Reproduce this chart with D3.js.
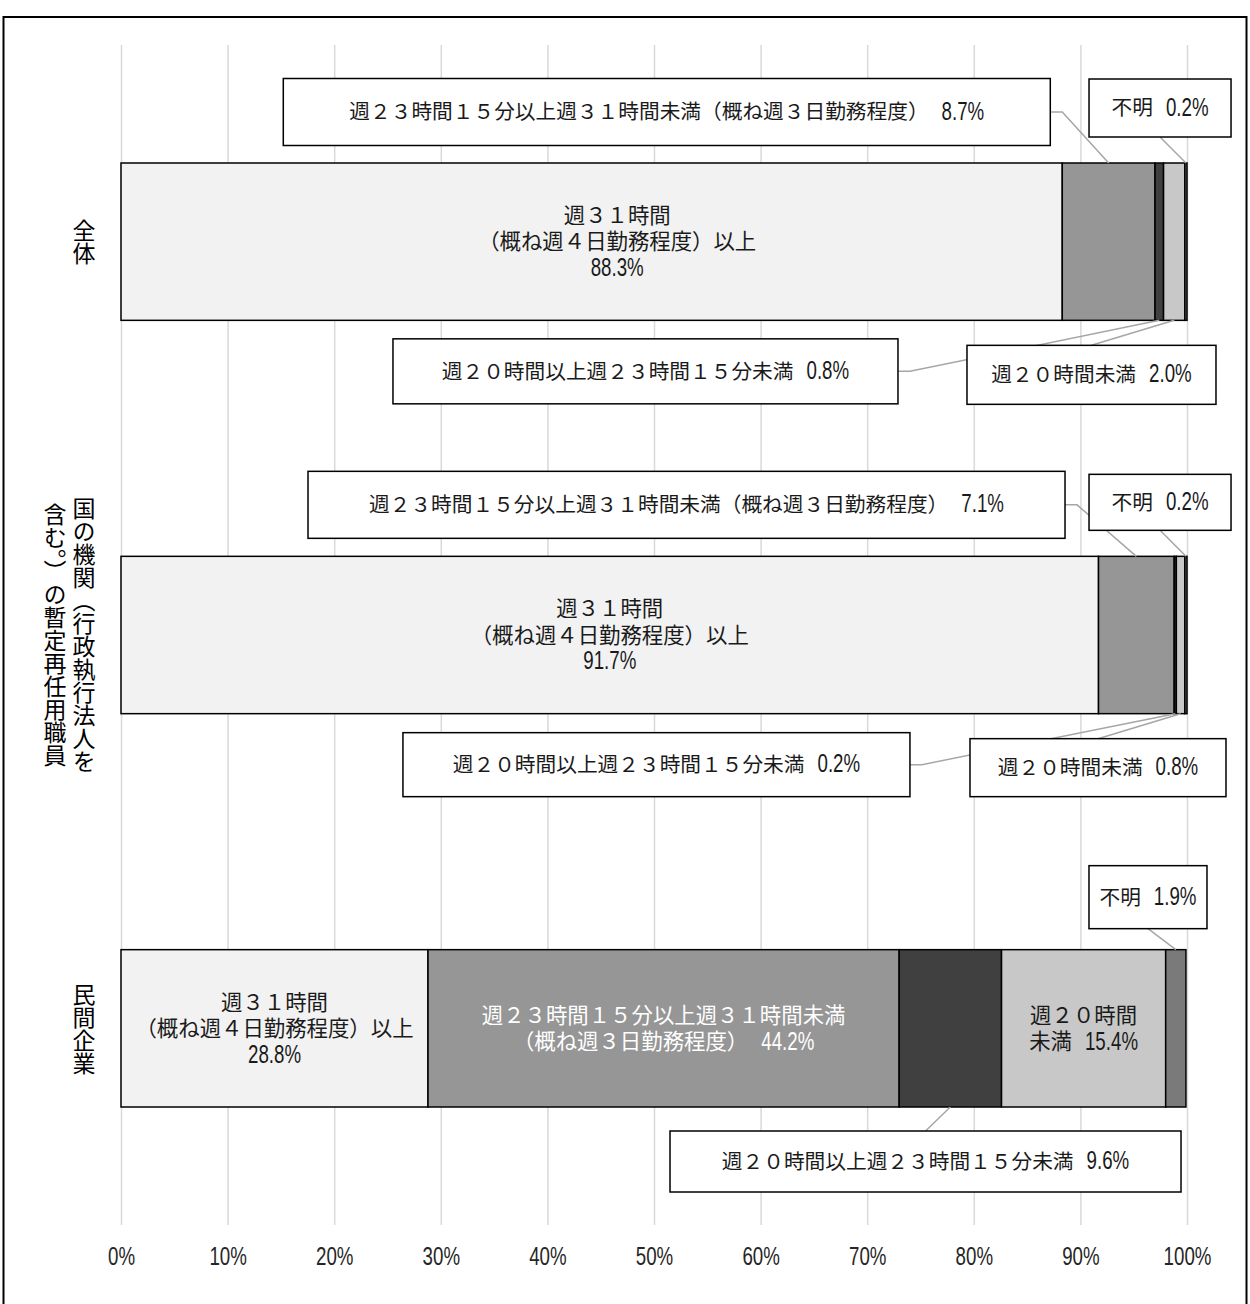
<!DOCTYPE html>
<html>
<head>
<meta charset="utf-8">
<script src="https://cdn.jsdelivr.net/npm/d3@7"></script>
<style>
  body { margin: 0; background: #fff; }
  svg { display: block; }
</style>
</head>
<body>
<svg id="chart"></svg>
<script>
// data
const groups = ['全体', '国の機関（行政執行法人を含む。）の暫定再任用職員', '民間企業']
const series = [
  '週３１時間（概ね週４日勤務程度）以上',
  '週２３時間１５分以上週３１時間未満（概ね週３日勤務程度）',
  '週２０時間以上週２３時間１５分未満',
  '週２０時間未満',
  '不明'
]
const zentai = [88.3, 8.7, 0.8, 2.0, 0.2]
const kuniKikan = [91.7, 7.1, 0.2, 0.8, 0.2]
const minkan = [28.8, 44.2, 9.6, 15.4, 1.9]
const tickValues = [0, 10, 20, 30, 40, 50, 60, 70, 80, 90, 100]

const values = [zentai, kuniKikan, minkan]
const colors = ['#f2f2f2', '#969696', '#404040', '#c8c8c8', '#7a7a7a']

// label layout: where each value is written (shift = nudge along the % axis)
const insideLabels = [
  [{ s: 0, brk: 5, own: true, shift: 2.4 }],
  [{ s: 0, brk: 5, own: true }],
  [{ s: 0, brk: 5, own: true }, { s: 1, brk: 17, own: false, fill: '#fff' }, { s: 3, brk: 5, own: false }]
]
// at = box centre on the % axis, dy = offset from bar top (<0) or bar bottom (>0)
const callouts = [
  [
    { s: 1, at: 51.2, dy: -51, w: 767, h: 67, side: 'right' },
    { s: 4, at: 97.47, dy: -55, w: 142, h: 58, side: 'bottom' },
    { s: 2, at: 49.2, dy: 51, w: 505, h: 65, side: 'right' },
    { s: 3, at: 91.04, dy: 54.5, w: 249, h: 59, side: 'top' }
  ],
  [
    { s: 1, at: 53.05, dy: -51.5, w: 757, h: 67, side: 'right' },
    { s: 4, at: 97.47, dy: -54, w: 142, h: 56, side: 'bottom' },
    { s: 2, at: 50.23, dy: 51, w: 507, h: 64, side: 'right' },
    { s: 3, at: 91.65, dy: 54, w: 256, h: 58, side: 'top' }
  ],
  [
    { s: 4, at: 96.34, dy: -52.5, w: 118, h: 63, side: 'bottom' },
    { s: 2, at: 75.47, dy: 54.5, w: 511, h: 61, side: 'top' }
  ]
]

const W = 1250, H = 1304
const jp = '"Noto Sans CJK JP", "Noto Sans", sans-serif'
const num = '"Liberation Sans", Arial, sans-serif'
const numSqueeze = 0.72   // numbers in the picture are tall and narrow
const fmt = v => d3.format('.1f')(v) + '%'

const svg = d3.select('#chart').attr('width', W).attr('height', H)

// outer frame
svg.append('rect')
  .attr('x', 3.5).attr('y', 17)
  .attr('width', 1243).attr('height', 1300)
  .attr('fill', '#fff').attr('stroke', '#000').attr('stroke-width', 2)

const x = d3.scaleLinear().domain([0, 100]).range([121, 1187])
const y = d3.scaleBand().domain(groups).range([45, 1225])
  .paddingInner(0.6).paddingOuter(0.3)

// grid + tick labels
const axis = svg.append('g')
  .attr('transform', `translate(0,${y.range()[1]})`)
  .call(d3.axisBottom(x).tickValues(tickValues)
    .tickSize(-(y.range()[1] - y.range()[0]))
    .tickPadding(22)
    .tickFormat(d => d + '%'))
axis.select('.domain').remove()
axis.selectAll('line').attr('stroke', '#d9d9d9').attr('stroke-width', 1.5)
axis.selectAll('text')
  .attr('font-family', num).attr('font-size', 26).attr('fill', '#262626')
  .attr('transform', `scale(${numSqueeze},1)`)

// stacked segments
const rows = values.map((vals, gi) => {
  const r = { group: groups[gi] }
  series.forEach((s, i) => r[s] = vals[i])
  return r
})
const stacked = d3.stack().keys(series)(rows)

svg.append('g')
  .selectAll('g')
  .data(stacked)
  .join('g')
  .attr('fill', (d, i) => colors[i])
  .selectAll('rect')
  .data(d => d)
  .join('rect')
  .attr('x', d => x(d[0]))
  .attr('y', d => y(d.data.group))
  .attr('width', d => x(d[1]) - x(d[0]))
  .attr('height', y.bandwidth())
  .attr('stroke', '#000')
  .attr('stroke-width', 1.5)

function segment(gi, s) {
  return stacked[s][gi]
}

// one text line: CJK part, then squeezed number, centred on (cx, cy)
function drawLine(cx, cy, jpText, numText, fill, size) {
  const g = svg.append('g').attr('fill', fill || '#1a1a1a')
  let w = 0
  if (jpText) {
    const t = g.append('text')
      .attr('font-family', jp).attr('font-size', size)
      .attr('y', size * 0.36)
      .text(jpText)
    w = t.node().getComputedTextLength()
  }
  if (numText) {
    const gap = jpText ? 13 : 0
    const n = g.append('text')
      .attr('font-family', num).attr('font-size', 26)
      .attr('transform', `translate(${w + gap},${size * 0.37}) scale(${numSqueeze},1)`)
      .text(numText)
    w += gap + n.node().getComputedTextLength() * numSqueeze
  }
  g.attr('transform', `translate(${cx - w / 2},${cy})`)
  return g
}

// labels inside bars
insideLabels.forEach((list, gi) => {
  list.forEach(lb => {
    const seg = segment(gi, lb.s)
    const name = series[lb.s]
    const v = fmt(values[gi][lb.s])
    const lines = [[name.slice(0, lb.brk), null], [name.slice(lb.brk), lb.own ? null : v]]
    if (lb.own) lines.push([null, v])
    const cx = x((seg[0] + seg[1]) / 2 + (lb.shift || 0))
    const cy = y(groups[gi]) + y.bandwidth() / 2
    const lh = 26.5
    lines.forEach((ln, li) => {
      drawLine(cx, cy + (li - (lines.length - 1) / 2) * lh, ln[0], ln[1], lb.fill, 21.4)
    })
  })
})

// callout boxes with leader lines
callouts.forEach((list, gi) => {
  const top = y(groups[gi])
  const bottom = top + y.bandwidth()
  list.forEach(c => {
    const seg = segment(gi, c.s)
    const ax = x((seg[0] + seg[1]) / 2)
    const ay = c.dy < 0 ? top : bottom
    const cx = x(c.at)
    const cy = ay + c.dy
    const bx = cx - c.w / 2, by = cy - c.h / 2

    let pts
    if (c.side === 'right') pts = [[bx + c.w, cy], [bx + c.w + 12, cy], [ax, ay]]
    else if (c.side === 'bottom') pts = [[cx, by + c.h], [ax, ay]]
    else pts = [[cx, by], [ax, ay]]
    svg.append('path')
      .attr('d', d3.line()(pts))
      .attr('fill', 'none')
      .attr('stroke', '#a6a6a6')
      .attr('stroke-width', 1.5)

    svg.append('rect')
      .attr('x', bx).attr('y', by)
      .attr('width', c.w).attr('height', c.h)
      .attr('fill', '#fff').attr('stroke', '#000').attr('stroke-width', 1.5)

    drawLine(cx, cy, series[c.s], fmt(values[gi][c.s]), null, 20.7)
  })
})

// category labels, written vertically
const colLen = 12
groups.forEach(g => {
  const cols = []
  for (let i = 0; i < g.length; i += colLen) cols.push(g.slice(i, i + colLen))
  const cy = y(g) + y.bandwidth() / 2
  cols.forEach((col, ci) => {
    svg.append('text')
      .attr('x', 84 - ci * 29)
      .attr('y', cy)
      .attr('text-anchor', 'middle')
      .style('writing-mode', 'vertical-rl')
      .attr('font-family', jp)
      .attr('font-size', 23)
      .attr('fill', '#000')
      .text(col)
  })
})
</script>
</body>
</html>
